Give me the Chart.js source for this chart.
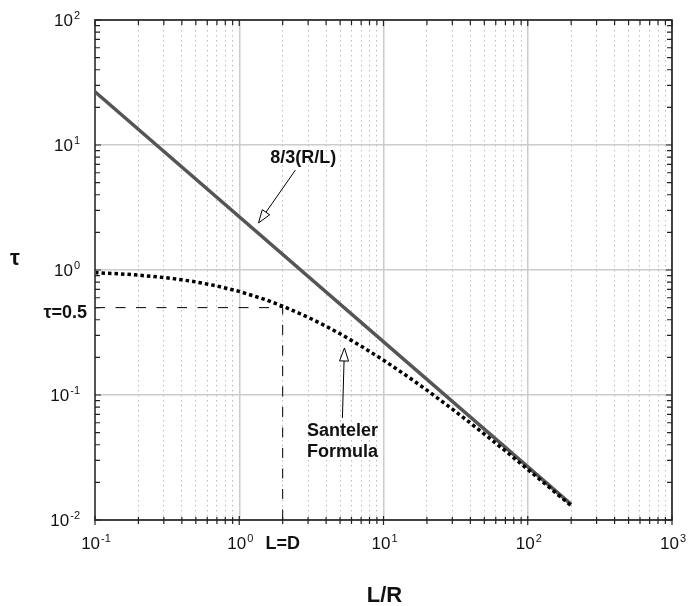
<!DOCTYPE html>
<html><head><meta charset="utf-8">
<script src="https://cdn.jsdelivr.net/npm/chart.js@4.4.1/dist/chart.umd.min.js"></script>
<style>html,body{margin:0;padding:0;background:#fff}#wrap{width:688px;height:606px;position:relative}</style>
</head><body><div id="wrap"><canvas id="c"></canvas></div>
<script>
// ---- data ----
const lrValues = [0.1, 0.15, 0.2, 0.3, 0.4, 0.5, 0.7, 1, 1.5, 2, 3, 4, 5, 7, 10, 15, 20, 30, 40, 50, 70, 100, 150, 200];
const santelerTau = [0.952, 0.931, 0.910, 0.871, 0.835, 0.803, 0.745, 0.674, 0.582, 0.514, 0.419, 0.355, 0.309, 0.246, 0.190, 0.1385, 0.1093, 0.0772, 0.0597, 0.0487, 0.0357, 0.0254, 0.0172, 0.0130];
const asymptoteLR = [0.1, 200];
const asymptoteTau = [26.67, 0.01333];
const refLR = [0.1, 2, 2];
const refTau = [0.5, 0.5, 0.01];
const xDecades = [0.1, 1, 10, 100, 1000];
const yDecades = [0.01, 0.1, 1, 10, 100];
const xTickExponents = ['-1', '0', '1', '2', '3'];
const yTickExponents = ['-2', '-1', '0', '1', '2'];
const minorMultipliers = [2, 3, 4, 5, 6, 7, 8, 9];

const xTickValues = [];
xDecades.forEach((d, i) => { xTickValues.push(d); if (i < xDecades.length - 1) minorMultipliers.forEach(m => xTickValues.push(+(m * d).toPrecision(3))); });
const yTickValues = [];
yDecades.forEach((d, i) => { yTickValues.push(d); if (i < yDecades.length - 1) minorMultipliers.forEach(m => yTickValues.push(+(m * d).toPrecision(3))); });

const isDecade = v => Math.abs(Math.log10(v) - Math.round(Math.log10(v))) < 1e-6;
const toPts = (xs, ys) => xs.map((x, i) => ({x: x, y: ys[i]}));

const annotations = {
  asym: {lines: ['8/3(R/L)'], x: 2.78, y: 7.87, dy: 0, from: [2.45, 6.3], to: [1.36, 2.38]},
  sant: {lines: ['Santeler', 'Formula'], x: 5.2, y: 0.0515, dy: 21, from: [5.19, 0.0655], to: [5.36, 0.2377]}
};

function drawArrow(ctx, x1, y1, x2, y2) {
  const ang = Math.atan2(y2 - y1, x2 - x1);
  const L = 13, W = 4.5;
  const bx = x2 - L * Math.cos(ang), by = y2 - L * Math.sin(ang);
  ctx.strokeStyle = '#000'; ctx.lineWidth = 1;
  ctx.beginPath(); ctx.moveTo(x1, y1); ctx.lineTo(bx, by); ctx.stroke();
  ctx.beginPath();
  ctx.moveTo(x2, y2);
  ctx.lineTo(bx + W * Math.sin(ang), by - W * Math.cos(ang));
  ctx.lineTo(bx - W * Math.sin(ang), by + W * Math.cos(ang));
  ctx.closePath();
  ctx.fillStyle = '#fff'; ctx.fill(); ctx.stroke();
}

function drawPow(ctx, exp, x, y, align) {
  ctx.font = '17px "Liberation Sans", Arial, sans-serif';
  const w1 = ctx.measureText('10').width;
  ctx.font = '11px "Liberation Sans", Arial, sans-serif';
  const w2 = ctx.measureText(exp).width;
  const tw = w1 + w2 + 1;
  let sx = align === 'right' ? x - tw : x - tw / 2;
  ctx.fillStyle = '#111'; ctx.textAlign = 'left'; ctx.textBaseline = 'alphabetic';
  ctx.font = '17px "Liberation Sans", Arial, sans-serif';
  ctx.fillText('10', sx, y);
  ctx.font = '11px "Liberation Sans", Arial, sans-serif';
  ctx.fillText(exp, sx + w1 + 1, y - 7);
}

const framePlugin = {
  id: 'frame',
  afterDraw(chart) {
    const ctx = chart.ctx, a = chart.chartArea, xs = chart.scales.x, ys = chart.scales.y;
    ctx.save();
    // frame
    ctx.strokeStyle = '#111'; ctx.lineWidth = 1.5;
    ctx.beginPath();
    ctx.moveTo(a.left, a.top); ctx.lineTo(a.right, a.top); ctx.lineTo(a.right, a.bottom); ctx.lineTo(a.left, a.bottom);
    ctx.stroke();
    ctx.strokeStyle = '#555'; ctx.lineWidth = 2;
    ctx.beginPath(); ctx.moveTo(a.left, a.top - 1); ctx.lineTo(a.left, a.bottom + 1); ctx.stroke();
    // ticks
    ctx.strokeStyle = '#222'; ctx.lineWidth = 1.2;
    ctx.beginPath();
    xTickValues.forEach(v => {
      const p = xs.getPixelForValue(v), L = isDecade(v) ? 5 : 4;
      ctx.moveTo(p, a.bottom - L + 1); ctx.lineTo(p, a.bottom + L);
      ctx.moveTo(p, a.top); ctx.lineTo(p, a.top + L + 1);
    });
    yTickValues.forEach(v => {
      const p = ys.getPixelForValue(v), L = isDecade(v) ? 6 : 5;
      ctx.moveTo(a.left, p); ctx.lineTo(a.left + L, p);
      ctx.moveTo(a.right, p); ctx.lineTo(a.right - L, p);
    });
    ctx.stroke();
    // tick labels
    xDecades.forEach((v, i) => drawPow(ctx, xTickExponents[i], xs.getPixelForValue(v) + 1, a.bottom + 29, 'center'));
    yDecades.forEach((v, i) => drawPow(ctx, yTickExponents[i], a.left - 15, ys.getPixelForValue(v) + 6, 'right'));
    // special labels
    ctx.fillStyle = '#111';
    ctx.font = 'bold 18px "Liberation Sans", Arial, sans-serif';
    ctx.textAlign = 'center'; ctx.textBaseline = 'alphabetic';
    ctx.fillText('L=D', xs.getPixelForValue(refLR[1]), a.bottom + 29);
    ctx.textAlign = 'right';
    ctx.fillText('\u03C4=0.5', a.left - 8, ys.getPixelForValue(refTau[0]) + 10);
    // axis titles
    ctx.font = 'bold 22px "Liberation Sans", Arial, sans-serif';
    ctx.textAlign = 'center';
    ctx.fillText('L/R', xs.getPixelForValue(10) + 1, 602);
    ctx.fillText('\u03C4', 15, 265);
    // annotations
    Object.values(annotations).forEach(an => {
      ctx.font = 'bold 18px "Liberation Sans", Arial, sans-serif';
      ctx.textAlign = 'center'; ctx.textBaseline = 'middle'; ctx.fillStyle = '#111';
      const cx = xs.getPixelForValue(an.x), cy = ys.getPixelForValue(an.y);
      an.lines.forEach((t, k) => ctx.fillText(t, cx, cy + k * an.dy));
      drawArrow(ctx, xs.getPixelForValue(an.from[0]), ys.getPixelForValue(an.from[1]),
                     xs.getPixelForValue(an.to[0]), ys.getPixelForValue(an.to[1]));
    });
    ctx.restore();
  }
};

new Chart(document.getElementById('c'), {
  type: 'scatter',
  data: {
    datasets: [
      {label: 'ref', data: toPts(refLR, refTau), showLine: true, borderColor: '#000', borderWidth: 1, borderDash: [10, 10.5], pointRadius: 0, fill: false},
      {label: 'Santeler Formula', data: toPts(lrValues, santelerTau), showLine: true, borderColor: '#000', borderWidth: 3.5, borderDash: [3.5, 3], borderCapStyle: 'butt', pointRadius: 0, fill: false},
      {label: '8/3(R/L)', data: toPts(asymptoteLR, asymptoteTau), showLine: true, borderColor: '#555', borderWidth: 3.5, pointRadius: 0, fill: false}
    ]
  },
  options: {
    responsive: true, maintainAspectRatio: false, animation: false,
    layout: {padding: {left: 95, right: 16, top: 20, bottom: 86}},
    plugins: {legend: {display: false}, tooltip: {enabled: false}},
    scales: {
      x: {
        type: 'logarithmic', min: 0.1, max: 1000,
        afterBuildTicks: s => { s.ticks = xTickValues.map(v => ({value: v})); },
        ticks: {display: false},
        grid: {drawTicks: false, color: c => isDecade(c.tick.value) ? '#cccccc' : '#bdbdbd', lineWidth: c => isDecade(c.tick.value) ? 1.5 : 1},
        border: {display: false, dash: c => (c.tick && !isDecade(c.tick.value)) ? [1.5, 3.5] : []}
      },
      y: {
        type: 'logarithmic', min: 0.01, max: 100,
        afterBuildTicks: s => { s.ticks = yDecades.map(v => ({value: v})); },
        ticks: {display: false},
        grid: {drawTicks: false, color: '#cccccc', lineWidth: 1.5},
        border: {display: false}
      }
    }
  },
  plugins: [framePlugin]
});
</script>
</body></html>
